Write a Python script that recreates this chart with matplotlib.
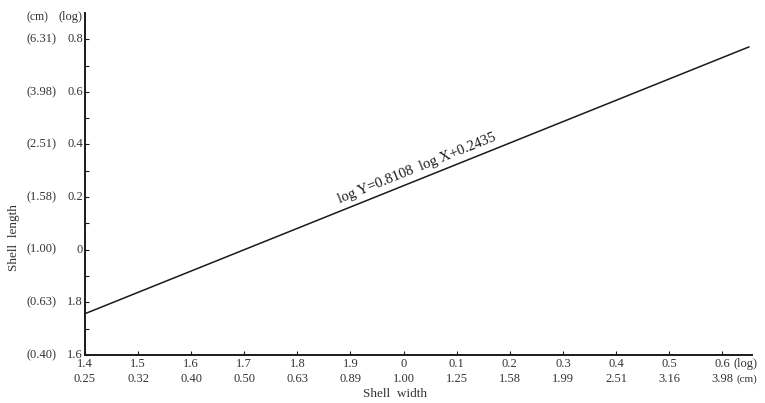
import numpy as np
import matplotlib
matplotlib.use("Agg")
import matplotlib.pyplot as plt
from matplotlib.transforms import offset_copy

# Regression of shell length on shell width (log10 scale, bar notation for negatives)
slope = 0.8108
intercept = 0.2435
x_range = [-0.6, 0.65]

x_ticks = [-0.6, -0.5, -0.4, -0.3, -0.2, -0.1, 0.0, 0.1, 0.2, 0.3, 0.4, 0.5, 0.6]
x_log_labels = ["1.4", "1.5", "1.6", "1.7", "1.8", "1.9", "0", "0.1", "0.2", "0.3", "0.4", "0.5", "0.6"]
x_cm_labels = ["0.25", "0.32", "0.40", "0.50", "0.63", "0.89", "1.00", "1.25", "1.58", "1.99", "2.51", "3.16", "3.98"]

y_ticks = [0.8, 0.6, 0.4, 0.2, 0.0, -0.2, -0.4]
y_log_labels = ["0.8", "0.6", "0.4", "0.2", "0", "1.8", "1.6"]
y_cm_labels = ["(6.31)", "(3.98)", "(2.51)", "(1.58)", "(1.00)", "(0.63)", "(0.40)"]

plt.rcParams["font.family"] = ["Liberation Serif", "DejaVu Serif"]
ink = "#1a1a1a"
txt = "#333333"

fig = plt.figure(figsize=(7.65, 4.03), dpi=100)
ax = fig.add_axes([0.111, 0.119, 0.872, 0.849])
ax.set_xlim(-0.6, 0.656)
ax.set_ylim(-0.4, 0.9)

for s in ("top", "right"):
    ax.spines[s].set_visible(False)
for s in ("left", "bottom"):
    ax.spines[s].set_linewidth(1.4)
    ax.spines[s].set_color(ink)

ax.set_xticks(x_ticks)
ax.set_yticks(y_ticks)
ax.set_yticks(np.arange(-0.3, 0.9, 0.2), minor=True)
ax.tick_params(which="both", direction="in", length=3, width=0.8, color=ink,
               labelbottom=False, labelleft=False)

# Regression line
xs = np.array(x_range)
ax.plot(xs, slope * xs + intercept, color=ink, lw=1.1, clip_on=False)

# Equation along the line
x0 = 0.035
ax.text(x0, slope * x0 + intercept, "log Y=0.8108  log X+0.2435",
        rotation=np.degrees(np.arctan(slope)), transform_rotates_text=True,
        rotation_mode="anchor", ha="center", va="bottom", fontsize=10.5,
        color=ink, transform=offset_copy(ax.transData, fig=fig, x=-2, y=3, units="points"))

# Two-row x tick labels
xt = ax.get_xaxis_transform()
for xv, lg, cm in zip(x_ticks, x_log_labels, x_cm_labels):
    ax.text(xv, -0.027, lg, transform=xt, ha="center", va="center", fontsize=9, color=txt)
    ax.text(xv, -0.071, cm, transform=xt, ha="center", va="center", fontsize=9, color=txt)
ax.text(0.622, -0.027, "(log)", transform=xt, ha="left", va="center", fontsize=9, color=txt)
ax.text(0.627, -0.071, "(cm)", transform=xt, ha="left", va="center", fontsize=8, color=txt)

# Two-column y tick labels
yt = ax.get_yaxis_transform()
for yv, lg, cm in zip(y_ticks, y_log_labels, y_cm_labels):
    ax.text(-0.003, yv, lg, transform=yt, ha="right", va="center", fontsize=9, color=txt)
    ax.text(-0.043, yv, cm, transform=yt, ha="right", va="center", fontsize=9, color=txt)
ax.text(-0.003, 0.885, "(log)", transform=yt, ha="right", va="center", fontsize=9, color=txt)
ax.text(-0.055, 0.885, "(cm)", transform=yt, ha="right", va="center", fontsize=8.5, color=txt)

fig.text(395 / 765, 1 - 394 / 403, "Shell  width", ha="center", va="center",
         fontsize=9.5, color=txt)
fig.text(14 / 765, 1 - 238 / 403, "Shell  length", ha="center", va="center",
         rotation=90, fontsize=9.5, color=txt)

fig.savefig("out.png", dpi=100)
